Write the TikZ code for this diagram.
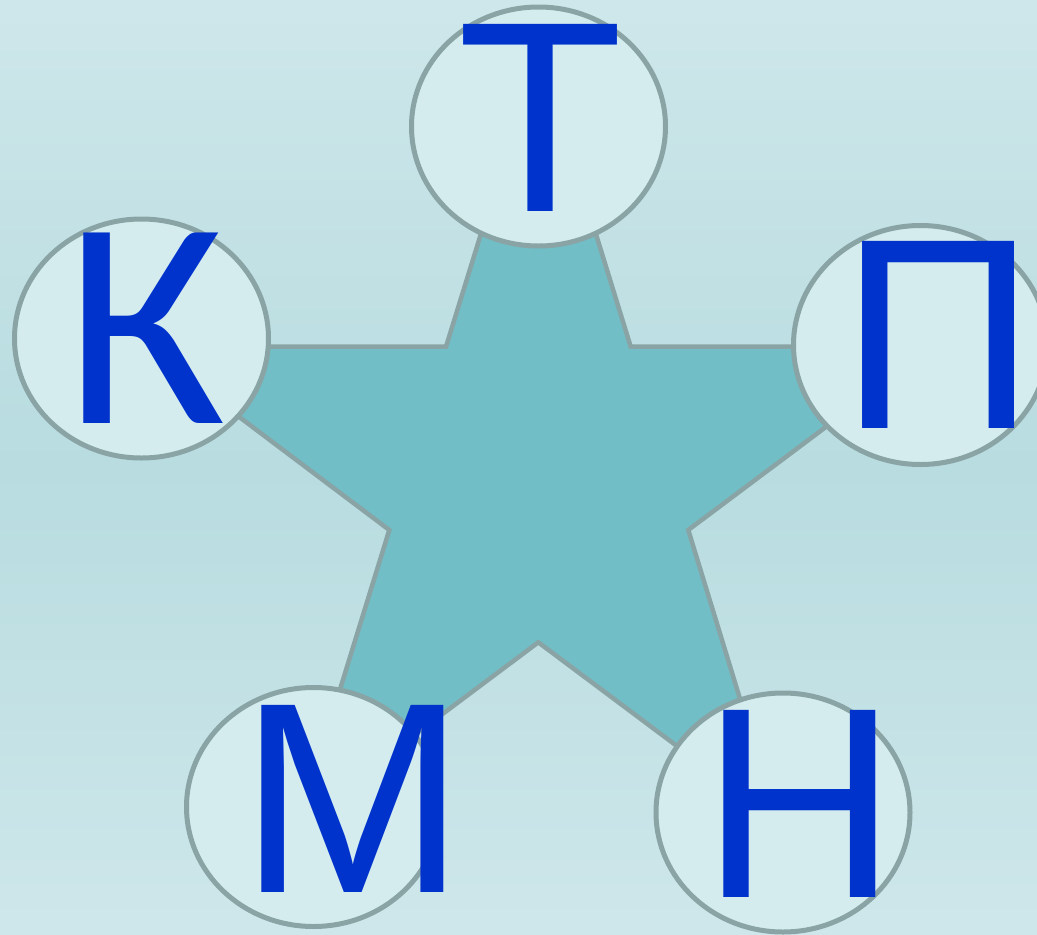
\documentclass[tikz,border=0pt]{standalone}
\usepackage{fontspec}
\setmainfont{Liberation Sans}
\newfontfamily\kafont{Carlito}
\usetikzlibrary{shapes.geometric}
\definecolor{bgtop}{RGB}{206,231,234}
\definecolor{bgmid}{RGB}{184,220,224}
\definecolor{starfill}{RGB}{113,190,198}
\definecolor{edgegray}{RGB}{138,164,166}
\definecolor{bubble}{RGB}{212,236,238}
\definecolor{letterblue}{RGB}{0,51,204}
\tikzset{
  bubblenode/.style={ellipse, draw=edgegray, line width=5pt, fill=bubble,
     minimum width=254pt, minimum height=239pt, inner sep=0pt},
  letter/.style={text=letterblue, inner sep=0pt, anchor=base,
     font=\fontsize{272}{272}\selectfont}
}
\begin{document}
\begin{tikzpicture}[x=1pt,y=-1pt]
\useasboundingbox (0,0) rectangle (1037,935);
\clip (0,0) rectangle (1037,935);
% background gradient in bands
\foreach \k in {0,...,186}{
  \pgfmathsetmacro{\yy}{5*\k}
  \pgfmathsetmacro{\pp}{max(0,100*(1-abs(\yy+2.5-467)/467))}
  \fill[bgmid!\pp!bgtop] (0,\yy) rectangle (1037,\yy+5.6);
}
% star
\coordinate (tT) at (538.5,48);
\coordinate (iTR) at (630.7,346.7);
\coordinate (tR) at (933,346.7);
\coordinate (iR) at (688.3,530);
\coordinate (tBR) at (777.5,821.3);
\coordinate (iB) at (538.3,642.3);
\coordinate (tBL) at (299.2,821.3);
\coordinate (iL) at (389.3,530);
\coordinate (tL) at (146,346.7);
\coordinate (iTL) at (446,346.7);
\draw[fill=starfill, draw=edgegray, line width=4.5pt, line join=miter]
  (tT) -- (iTR) -- (tR) -- (iR) -- (tBR) -- (iB) -- (tBL) -- (iL) -- (tL) -- (iTL) -- cycle;
% bubbles
\node[bubblenode] (eT) at (538.5,126.5) {};
\node[bubblenode] (eL) at (141.5,338.5) {};
\node[bubblenode] (eR) at (920.5,345) {};
\node[bubblenode] (eBL) at (313.5,807) {};
\node[bubblenode] (eBR) at (783,812.5) {};
% letters
\node[letter] (lT) at (541,211) {Т};
\node[letter, font=\kafont\fontsize{297}{297}\selectfont] (lK) at (145,423) {К};
\node[letter] (lP) at (938,428) {П};
\node[letter] (lM) at (353,892) {М};
\node[letter] (lN) at (799.5,897) {Н};
\end{tikzpicture}
\end{document}
